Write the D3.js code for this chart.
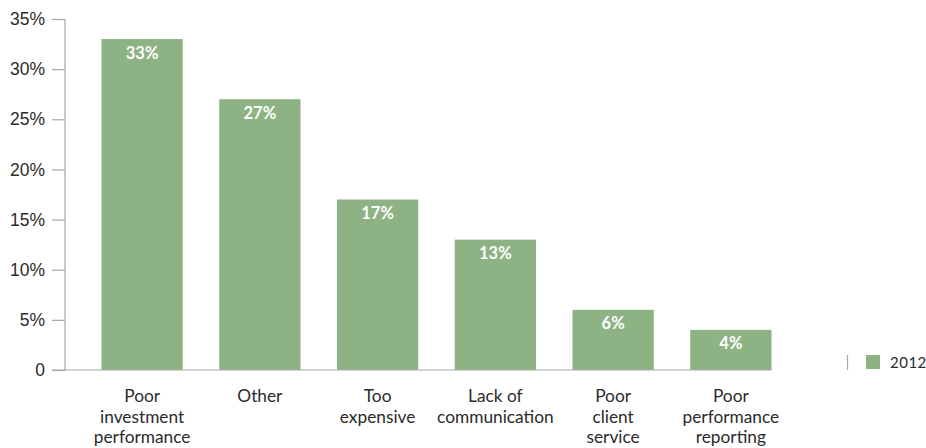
<!DOCTYPE html>
<html>
<head>
<meta charset="utf-8">
<script src="https://cdn.jsdelivr.net/npm/d3@7"></script>
<style>
  html, body { margin: 0; padding: 0; background: #fff; }
  svg { display: block; font-family: Lato, "Open Sans", sans-serif; }
</style>
</head>
<body>
<svg id="chart" width="926" height="448"></svg>
<script>
// Reasons for changing manager, share of responses
const categories = [
  ["Poor", "investment", "performance"],
  ["Other"],
  ["Too", "expensive"],
  ["Lack of", "communication"],
  ["Poor", "client", "service"],
  ["Poor", "performance", "reporting"]
];
const values = [33, 27, 17, 13, 6, 4];
const yTicks = [0, 5, 10, 15, 20, 25, 30, 35];
const seriesName = "2012";

const barColor = "#8db283";
const axisColor = "#a8a8a8";
const textColor = "#2b2b2b";

const svg = d3.select("#chart");
const plotLeft = 65, plotRight = 808, plotTop = 19, plotBottom = 370;

const keys = categories.map((c, i) => i);
const x = d3.scaleBand().domain(keys).range([plotLeft, plotRight]).paddingInner(0.31).paddingOuter(0.31);
const y = d3.scaleLinear().domain([0, 35]).range([plotBottom, plotTop]);

// y axis
const yAxis = d3.axisLeft(y).tickValues(yTicks).tickSize(13).tickPadding(7)
  .tickFormat(d => d === 0 ? "0" : d + "%");
const gy = svg.append("g").attr("transform", `translate(${plotLeft},0)`).call(yAxis);
gy.select(".domain").remove();
gy.selectAll(".tick line").attr("stroke", axisColor).attr("stroke-width", 1.2);
gy.selectAll(".tick text").attr("fill", textColor).attr("font-size", 17.5);
svg.append("line")
  .attr("x1", plotLeft).attr("x2", plotLeft).attr("y1", y(35)).attr("y2", y(0))
  .attr("stroke", axisColor).attr("stroke-width", 1.2);

// bars
svg.selectAll("rect.bar").data(values).join("rect")
  .attr("class", "bar")
  .attr("x", (d, i) => x(i))
  .attr("y", d => y(d))
  .attr("width", x.bandwidth())
  .attr("height", d => y(0) - y(d))
  .attr("fill", barColor);

// value labels inside bars
svg.selectAll("text.val").data(values).join("text")
  .attr("class", "val")
  .attr("x", (d, i) => x(i) + x.bandwidth() / 2)
  .attr("y", d => y(d) + 19.5)
  .attr("text-anchor", "middle")
  .attr("fill", "#fff")
  .attr("font-weight", "bold")
  .attr("font-size", 16.5)
  .text(d => d + "%");

// baseline
svg.append("line")
  .attr("x1", plotLeft - 13).attr("x2", x(keys[keys.length - 1]) + x.bandwidth())
  .attr("y1", y(0)).attr("y2", y(0))
  .attr("stroke", axisColor).attr("stroke-width", 1.2);

// category labels
const cat = svg.selectAll("text.cat").data(categories).join("text")
  .attr("class", "cat")
  .attr("text-anchor", "middle")
  .attr("fill", textColor)
  .attr("font-size", 17.3);
cat.selectAll("tspan").data((d, i) => d.map(line => ({ line, i }))).join("tspan")
  .attr("x", d => x(d.i) + x.bandwidth() / 2)
  .attr("y", (d, j) => 402 + j * 20.5)
  .text(d => d.line);

// legend
const lg = svg.append("g");
lg.append("line").attr("x1", 847.5).attr("x2", 847.5).attr("y1", 355).attr("y2", 370)
  .attr("stroke", axisColor).attr("stroke-width", 1.2);
lg.append("rect").attr("x", 866).attr("y", 355).attr("width", 14).attr("height", 14).attr("fill", barColor);
lg.append("text").attr("x", 890).attr("y", 368).attr("fill", textColor)
  .attr("font-size", 15).attr("letter-spacing", 0.5).text(seriesName);
</script>
</body>
</html>
